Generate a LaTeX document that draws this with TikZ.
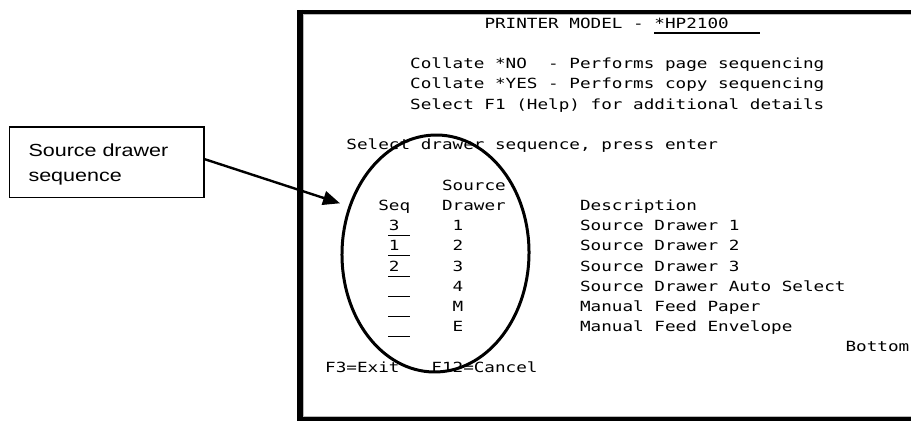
\documentclass[tikz,border=0pt]{standalone}
\usepackage{fontspec}
\usetikzlibrary{arrows.meta}
\newfontfamily\scrfont[FakeStretch=1.26]{DejaVu Sans Mono}
\newfontfamily\boxfont[FakeStretch=1.23]{Liberation Sans}
\tikzset{
  scr/.style={font=\scrfont\fontsize{14}{16}\selectfont, anchor=base west, inner sep=0pt},
  cell/.style 2 args={at={({325+10.62*(#1)},{392.7-20.23*(#2)})}},
  uline/.style={line width=1.1pt},
  frame/.style={line width=4pt},
  srcbox/.style={draw, line width=1.8pt, minimum width=194.5pt, minimum height=70.5pt,
    inner xsep=19pt, inner ysep=0pt, text width=156.5pt, align=left, text height=16.5pt,
    font=\boxfont\fontsize{17.5}{24.7}\selectfont},
  arr/.style={line width=2.4pt, -{Triangle[length=17pt,width=14pt]}},
  oval/.style={line width=3pt}
}
\begin{document}
\begin{tikzpicture}[x=1pt,y=1pt]
\useasboundingbox (0,0) rectangle (911,421);
% screen frame
\draw[gray!55, line width=1pt] (911,406.5) -- (303.5,406.5) -- (303.5,5) -- (911,5);
\draw[line width=6pt] (300,411) -- (300,0);
\draw[frame] (297,409) -- (911,409);
\draw[frame] (297,2.5) -- (911,2.5);
% screen text
\node[scr, cell={15}{0}] (title) {PRINTER MODEL - *HP2100};
\draw[uline] ({325+10.62*31},{392.7-4.7}) -- ({325+10.62*41},{392.7-4.7});
\node[scr, cell={8}{2}] (l2) {Collate *NO\ \ - Performs page sequencing};
\node[scr, cell={8}{3}] (l3) {Collate *YES - Performs copy sequencing};
\node[scr, cell={8}{4}] (l4) {Select F1 (Help) for additional details};
\node[scr, cell={2}{6}] (l6) {Select drawer sequence, press enter};
\node[scr, cell={11}{8}] (h1) {Source};
\node[scr, cell={5}{9}] (hseq) {Seq};
\node[scr, cell={11}{9}] (hdr) {Drawer};
\node[scr, cell={24}{9}] (hdesc) {Description};
\node[scr, cell={6}{10}] (s1) {3};
\node[scr, cell={6}{11}] (s2) {1};
\node[scr, cell={6}{12}] (s3) {2};
\node[scr, cell={12}{10}] (d1) {1};
\node[scr, cell={12}{11}] (d2) {2};
\node[scr, cell={12}{12}] (d3) {3};
\node[scr, cell={12}{13}] (d4) {4};
\node[scr, cell={12}{14}] (d5) {M};
\node[scr, cell={12}{15}] (d6) {E};
\node[scr, cell={24}{10}] (e1) {Source Drawer 1};
\node[scr, cell={24}{11}] (e2) {Source Drawer 2};
\node[scr, cell={24}{12}] (e3) {Source Drawer 3};
\node[scr, cell={24}{13}] (e4) {Source Drawer Auto Select};
\node[scr, cell={24}{14}] (e5) {Manual Feed Paper};
\node[scr, cell={24}{15}] (e6) {Manual Feed Envelope};
\node[scr, cell={49}{16}] (bot) {Bottom};
\node[scr, cell={0}{17}] (f3) {F3=Exit};
\node[scr, cell={10}{17}] (f12) {F12=Cancel};
\foreach \r in {10,...,15}
  \draw[uline] ({325+10.62*6-0.5},{392.7-20.23*\r-5}) -- ({325+10.62*8},{392.7-20.23*\r-5});
% callout
\node[srcbox] (src) at (106.75,258.75) {Source drawer\\sequence};
\draw[oval, rotate around={-1:(435.5,167.5)}] (435.5,167.5) ellipse [x radius=93.5, y radius=118.5];
\coordinate (tip) at (340,217.7);
\draw[arr] ([yshift=3pt]src.east) -- (tip);
\end{tikzpicture}
\end{document}
